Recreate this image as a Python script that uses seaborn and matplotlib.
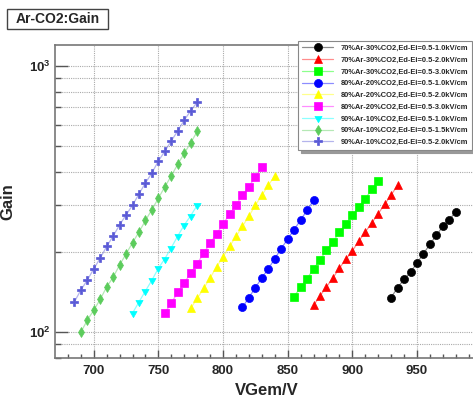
import numpy as np
import pandas as pd
import seaborn as sns
import matplotlib
matplotlib.use("Agg")
import matplotlib.pyplot as plt
from matplotlib.patches import Rectangle
from matplotlib.ticker import FixedLocator, FuncFormatter, NullFormatter

# ---- data (VGem in V, gain) ----
v_70_10 = [930, 935, 940, 945, 950, 955, 960, 965, 970, 975, 980]
g_70_10 = [135, 147, 158, 168, 182, 197, 214, 231, 250, 265, 283]

v_70_20 = [870, 875, 880, 885, 890, 895, 900, 905, 910, 915, 920, 925, 930, 935]
g_70_20 = [126, 137, 148, 160, 174, 188, 202, 220, 238, 257, 279, 302, 328, 356]

v_70_30 = [855, 860, 865, 870, 875, 880, 885, 890, 895, 900, 905, 910, 915, 920]
g_70_30 = [136, 148, 159, 173, 187, 203, 218, 238, 255, 275, 295, 317, 344, 370]

v_80_10 = [815, 820, 825, 830, 835, 840, 845, 850, 855, 860, 865, 870]
g_80_10 = [124, 135, 147, 160, 173, 189, 206, 224, 243, 264, 287, 313]

v_80_20 = [775, 780, 785, 790, 795, 800, 805, 810, 815, 820, 825, 830, 835, 840]
g_80_20 = [123, 134, 146, 160, 176, 192, 210, 229, 250, 273, 300, 327, 356, 387]

v_80_30 = [755, 760, 765, 770, 775, 780, 785, 790, 795, 800, 805, 810, 815, 820,
           825, 830]
g_80_30 = [118, 129, 141, 153, 167, 181, 198, 216, 234, 255, 277, 301, 327, 352,
           384, 416]

v_90_10 = [730, 735, 740, 745, 750, 755, 760, 765, 770, 775, 780]
g_90_10 = [118, 130, 143, 157, 174, 189, 208, 230, 253, 274, 300]

v_90_15 = [690, 695, 700, 705, 710, 715, 720, 725, 730, 735, 740, 745, 750, 755,
           760, 765, 770, 775, 780]
g_90_15 = [100, 111, 121, 133, 148, 161, 179, 197, 217, 238, 263, 289, 319, 352,
           387, 428, 470, 515, 568]

v_90_20 = [685, 690, 695, 700, 705, 710, 715, 720, 725, 730, 735, 740, 745, 750,
           755, 760, 765, 770, 775, 780]
g_90_20 = [130, 144, 157, 173, 190, 210, 230, 253, 276, 300, 331, 364, 397, 440,
           479, 524, 571, 627, 679, 732]

labels = [
    "70%Ar-30%CO2,Ed-Ei=0.5-1.0kV/cm",
    "70%Ar-30%CO2,Ed-Ei=0.5-2.0kV/cm",
    "70%Ar-30%CO2,Ed-Ei=0.5-3.0kV/cm",
    "80%Ar-20%CO2,Ed-Ei=0.5-1.0kV/cm",
    "80%Ar-20%CO2,Ed-Ei=0.5-2.0kV/cm",
    "80%Ar-20%CO2,Ed-Ei=0.5-3.0kV/cm",
    "90%Ar-10%CO2,Ed-Ei=0.5-1.0kV/cm",
    "90%Ar-10%CO2,Ed-Ei=0.5-1.5kV/cm",
    "90%Ar-10%CO2,Ed-Ei=0.5-2.0kV/cm",
]
volts = [v_70_10, v_70_20, v_70_30, v_80_10, v_80_20, v_80_30, v_90_10, v_90_15, v_90_20]
gains = [g_70_10, g_70_20, g_70_30, g_80_10, g_80_20, g_80_30, g_90_10, g_90_15, g_90_20]

# styles
colors = ["#000000", "#ff0000", "#00ff00", "#0000ff", "#ffff00", "#ff00ff",
          "#00ffff", "#5ccc5c", "#5a5ad6"]
markers = ["o", "^", "s", "o", "^", "s", (3, 1, 60), "d", "P"]
msizes = [5.8, 6, 5.8, 5.8, 6, 5.8, 6, 5, 5.8]

sns.set_theme(style="white")
plt.rcParams["font.family"] = ["Liberation Sans", "DejaVu Sans"]
plt.rcParams["font.weight"] = "bold"
plt.rcParams["mathtext.fontset"] = "custom"
plt.rcParams["mathtext.rm"] = "Liberation Sans:bold"
plt.rcParams["mathtext.bf"] = "Liberation Sans:bold"

W, H = 473, 397
fig = plt.figure(figsize=(W / 100, H / 100), dpi=100)
ax = fig.add_axes([55 / W, (H - 358) / H, (481.6 - 55) / W, (358 - 45) / H])

for i in range(len(labels)):
    df = pd.DataFrame({"V": volts[i], "G": gains[i]})
    sns.lineplot(data=df, x="V", y="G", ax=ax, marker=markers[i], markersize=msizes[i],
                 color=colors[i], linewidth=0.9, label=labels[i], estimator=None,
                 sort=False)
    ln = ax.lines[-1]
    ln.set_color(matplotlib.colors.to_rgba(colors[i], 0.45))
    ln.set_markerfacecolor(colors[i])
    ln.set_markeredgecolor(colors[i])
    ln.set_markeredgewidth(0.5)

ax.set_yscale("log")
ax.set_xlim(670, 1000)
ax.set_ylim(80, 1200)

# ticks
ax.xaxis.set_major_locator(FixedLocator([700, 750, 800, 850, 900, 950]))
ax.xaxis.set_minor_locator(FixedLocator(np.arange(680, 1001, 10)))
ax.yaxis.set_major_locator(FixedLocator([100, 1000]))
ax.yaxis.set_minor_locator(FixedLocator([80, 90, 200, 300, 400, 500, 600, 700, 800, 900]))
ax.yaxis.set_major_formatter(FuncFormatter(lambda v, p: r"$\mathbf{10^{%d}}$" % round(np.log10(v))))
ax.yaxis.set_minor_formatter(NullFormatter())
ax.tick_params(axis="x", which="major", direction="in", length=6, width=1, color="#555555",
               labelsize=9.5, pad=5, bottom=True)
ax.tick_params(axis="x", which="minor", direction="in", length=3, width=1, color="#555555",
               bottom=True)
ax.tick_params(axis="y", which="major", direction="in", length=9, width=1, color="#555555",
               labelsize=9.5, pad=3, left=True)
ax.tick_params(axis="y", which="minor", direction="in", length=4.5, width=1, color="#555555",
               left=True)
for lab in ax.get_xticklabels():
    lab.set_fontweight("bold")

ax.grid(True, which="major", axis="x", linestyle=(0, (1, 1)), color="#aaaaaa", linewidth=0.8)
ax.grid(True, which="both", axis="y", linestyle=(0, (1, 1)), color="#aaaaaa", linewidth=0.8)
for s in ax.spines.values():
    s.set_color("#777777")
    s.set_linewidth(1.2)

ax.set_xlabel("VGem/V", fontsize=12, fontweight="bold", labelpad=4)
ax.set_ylabel("Gain", fontsize=12, fontweight="bold", labelpad=10)
ax.xaxis.set_label_coords((267 - 55) / (481.6 - 55), -0.08)

leg = ax.legend(loc="upper left", bbox_to_anchor=(298 / W, 1 - 41 / H),
                bbox_transform=fig.transFigure, prop={"weight": "bold", "size": 5.4},
                frameon=True, fancybox=False, edgecolor="#888888", framealpha=1,
                handlelength=4.2, handletextpad=1.0, labelspacing=0.6,
                borderpad=0.5, borderaxespad=0, shadow={"color": "#999999", "alpha": 1})
leg.get_frame().set_linewidth(0.8)

# title box
fig.patches.append(Rectangle((7 / W, 1 - 29 / H), 101 / W, 20 / H, transform=fig.transFigure,
                             fill=False, edgecolor="#444444", linewidth=1))
fig.text(57.5 / W, 1 - 19 / H, "Ar-CO2:Gain", ha="center", va="center",
         fontsize=10, fontweight="bold")

fig.savefig("out.png", dpi=100)
